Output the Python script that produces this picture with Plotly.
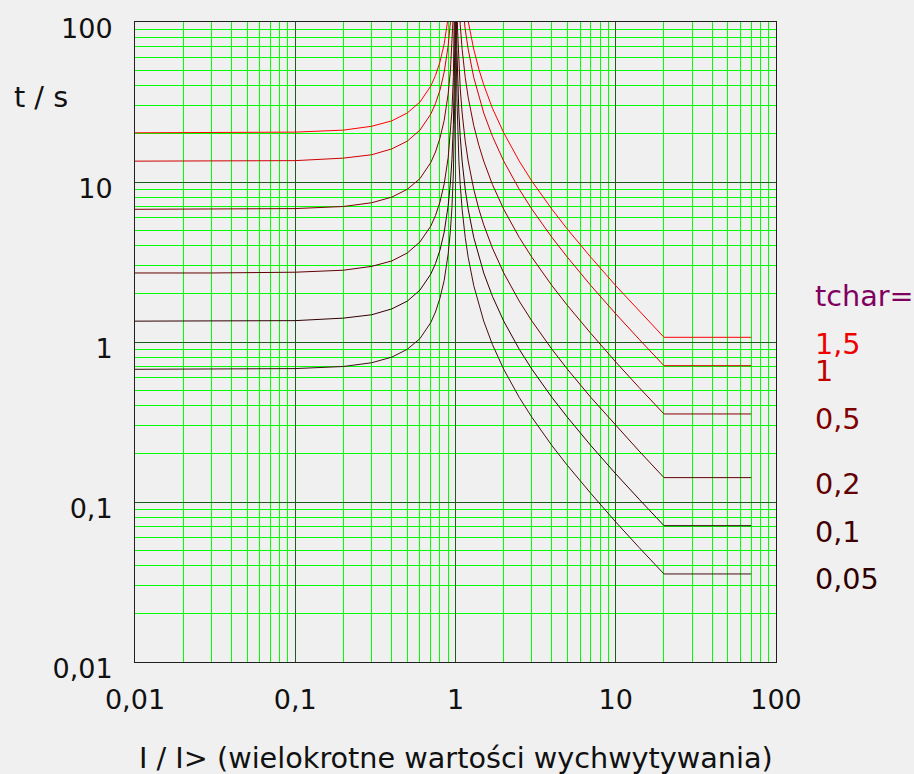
'''
    Inverse-time characteristics (very inverse) of an overcurrent relay,
    drawn on a log-log grid for several tchar settings.
'''

import math

import plotly.graph_objects as go

# tchar settings and their label text
TCHAR = [1.5, 1, 0.5, 0.2, 0.1, 0.05]
TCHAR_LABELS = ['1,5', '1', '0,5', '0,2', '0,1', '0,05']

# I/I> values below pickup (left branch)
X_LEFT = [0.01, 0.03, 0.1, 0.2, 0.3, 0.4, 0.5, 0.6, 0.7, 0.75, 0.8, 0.85,
          0.9, 0.93, 0.95, 0.97, 0.98, 0.99, 0.995, 0.999]

# I/I> values above pickup (right branch, flat after 20)
X_RIGHT = [1.001, 1.003, 1.005, 1.01, 1.02, 1.03, 1.05, 1.07, 1.1, 1.15, 1.2,
           1.3, 1.4, 1.5, 1.7, 2, 2.5, 3, 4, 5, 7, 10, 14, 20, 70]

# times, seconds
T_LEFT = {
    1.5: [20.3, 20.3, 20.5, 21.1, 22.3, 24.1, 27.0, 31.6, 39.7, 46.3, 56.3,
          73.0, 107, 150, 208, 343, 511, 1020, 2030, 10100],
    1: [13.5, 13.5, 13.6, 14.1, 14.8, 16.1, 18.0, 21.1, 26.5, 30.9, 37.5,
        48.6, 71.1, 99.9, 138, 228, 341, 678, 1350, 6750],
    0.5: [6.75, 6.76, 6.82, 7.03, 7.42, 8.04, 9.00, 10.5, 13.2, 15.4, 18.8,
          24.3, 35.5, 50.0, 69.2, 114, 170, 339, 677, 3380],
    0.2: [2.70, 2.70, 2.73, 2.81, 2.97, 3.21, 3.60, 4.22, 5.29, 6.17, 7.50,
          9.73, 14.2, 20.0, 27.7, 45.7, 68.2, 136, 271, 1350],
    0.1: [1.35, 1.35, 1.36, 1.41, 1.48, 1.61, 1.80, 2.11, 2.65, 3.09, 3.75,
          4.86, 7.11, 9.99, 13.8, 22.8, 34.1, 67.8, 135, 675],
    0.05: [0.675, 0.676, 0.682, 0.703, 0.742, 0.804, 0.900, 1.05, 1.32, 1.54,
           1.88, 2.43, 3.55, 5.00, 6.92, 11.4, 17.0, 33.9, 67.7, 338],
}

T_RIGHT = {
    1.5: [20250, 6750, 4050, 2030, 1010, 675, 405, 289, 203, 135, 101, 67.5,
          50.6, 40.5, 28.9, 20.3, 13.5, 10.1, 6.75, 5.06, 3.38, 2.25, 1.56,
          1.07, 1.07],
    1: [13500, 4500, 2700, 1350, 675, 450, 270, 193, 135, 90.0, 67.5, 45.0,
        33.8, 27.0, 19.3, 13.5, 9.00, 6.75, 4.50, 3.38, 2.25, 1.50, 1.04,
        0.711, 0.711],
    0.5: [6750, 2250, 1350, 675, 338, 225, 135, 96.4, 67.5, 45.0, 33.8, 22.5,
          16.9, 13.5, 9.64, 6.75, 4.50, 3.38, 2.25, 1.69, 1.13, 0.750, 0.519,
          0.355, 0.355],
    0.2: [2700, 900, 540, 270, 135, 90.0, 54.0, 38.6, 27.0, 18.0, 13.5, 9.00,
          6.75, 5.40, 3.86, 2.70, 1.80, 1.35, 0.900, 0.675, 0.450, 0.300,
          0.208, 0.142, 0.142],
    0.1: [1350, 450, 270, 135, 67.5, 45.0, 27.0, 19.3, 13.5, 9.00, 6.75, 4.50,
          3.38, 2.70, 1.93, 1.35, 0.900, 0.675, 0.450, 0.338, 0.225, 0.150,
          0.104, 0.0711, 0.0711],
    0.05: [675, 225, 135, 67.5, 33.8, 22.5, 13.5, 9.64, 6.75, 4.50, 3.38,
           2.25, 1.69, 1.35, 0.964, 0.675, 0.450, 0.338, 0.225, 0.169, 0.113,
           0.0750, 0.0519, 0.0355, 0.0355],
}

# axis ticks
DECADES = [0.01, 0.1, 1, 10, 100]
DECADE_LABELS = ['0,01', '0,1', '1', '10', '100']

# styling
COLORS = {1.5: '#ff0000', 1: '#d00000', 0.5: '#800000', 0.2: '#600000',
          0.1: '#300000', 0.05: '#401010'}
LABEL_COLORS = {1.5: '#ee0000', 1: '#c00000', 0.5: '#800000', 0.2: '#600000',
                0.1: '#400000', 0.05: '#300000'}
LABEL_Y = [0.497, 0.455, 0.380, 0.278, 0.203, 0.130]
FONT = 'DejaVu Sans'
TEXT_SIZE = 28.7
BG = '#f0f0f0'
MAJOR_GRID = '#1a5e1a'
MINOR_GRID = '#00ff00'

# plot area in pixels
LEFT, TOP, PW, PH = 135, 22, 641, 640

minor_vals = [d * k for d in DECADES[:-1] for k in range(2, 10)]

fig = go.Figure()

for tc in TCHAR:
    fig.add_trace(go.Scatter(
        x=X_LEFT + [None] + X_RIGHT,
        y=T_LEFT[tc] + [None] + T_RIGHT[tc],
        mode='lines',
        line=dict(color=COLORS[tc], width=1),
        showlegend=False,
        hoverinfo='skip'
    ))

axis_style = dict(
    type='log',
    range=[-2, 2],
    tickmode='array',
    tickvals=DECADES,
    ticktext=DECADE_LABELS,
    ticks='',
    showgrid=False,
    showline=True,
    linecolor='#202020',
    linewidth=1,
    mirror=True,
    zeroline=False,
    tickfont=dict(family=FONT, size=27, color='#111111'),
)

fig.update_layout(
    template='none',
    width=914,
    height=774,
    margin=dict(l=LEFT, r=914 - LEFT - PW, t=TOP, b=774 - TOP - PH, pad=0),
    paper_bgcolor=BG,
    plot_bgcolor=BG,
    xaxis=dict(axis_style, ticklabelstandoff=14),
    yaxis=dict(axis_style, ticklabelstandoff=16, ticklabelshift=7),
)


def grid_line(val, color, vertical):
    '''
        Builds one grid line shape under the curves, snapped to the
        pixel grid so that it stays a sharp 1 px line.
    '''
    frac = (math.log10(val) + 2) / 4
    if vertical:
        px = math.floor(LEFT + frac * PW) + 0.5
        pos = (px - LEFT) / PW
        return dict(type='line', xref='paper', yref='paper', x0=pos, x1=pos,
                    y0=0, y1=1, layer='below',
                    line=dict(color=color, width=1))
    py = math.floor(TOP + (1 - frac) * PH) + 0.5
    pos = 1 - (py - TOP) / PH
    return dict(type='line', xref='paper', yref='paper', x0=0, x1=1,
                y0=pos, y1=pos, layer='below',
                line=dict(color=color, width=1))


# green 2..9 lines first, then the darker decade lines on top
shapes = []
for v in minor_vals:
    shapes.append(grid_line(v, MINOR_GRID, True))
    shapes.append(grid_line(v, MINOR_GRID, False))
for d in DECADES[1:-1]:
    shapes.append(grid_line(d, MAJOR_GRID, True))
    shapes.append(grid_line(d, MAJOR_GRID, False))
fig.update_layout(shapes=shapes)

annotations = [
    dict(text='t / s', xref='paper', yref='paper', x=-0.192, y=0.883,
         xanchor='left', yanchor='middle', showarrow=False,
         font=dict(family=FONT, size=TEXT_SIZE, color='#111111')),
    dict(text='I / I> (wielokrotne wartości wychwytywania)', xref='paper',
         yref='paper', x=0.5, y=-0.15, xanchor='center', yanchor='middle',
         showarrow=False,
         font=dict(family=FONT, size=TEXT_SIZE, color='#111111')),
    dict(text='tchar=', xref='paper', yref='paper', x=1.058, y=0.572,
         xanchor='left', yanchor='middle', showarrow=False,
         font=dict(family=FONT, size=TEXT_SIZE, color='#800060')),
]
for tc, label, ly in zip(TCHAR, TCHAR_LABELS, LABEL_Y):
    annotations.append(dict(
        text=label, xref='paper', yref='paper', x=1.058, y=ly,
        xanchor='left', yanchor='middle', showarrow=False,
        font=dict(family=FONT, size=TEXT_SIZE, color=LABEL_COLORS[tc])))

fig.update_layout(annotations=annotations)

# no page margin, so the figure fills the window exactly
fig.write_html("out.html",
               config={'displayModeBar': False},
               post_script="document.body.style.margin='0';"
                           "document.body.style.overflow='hidden';")
